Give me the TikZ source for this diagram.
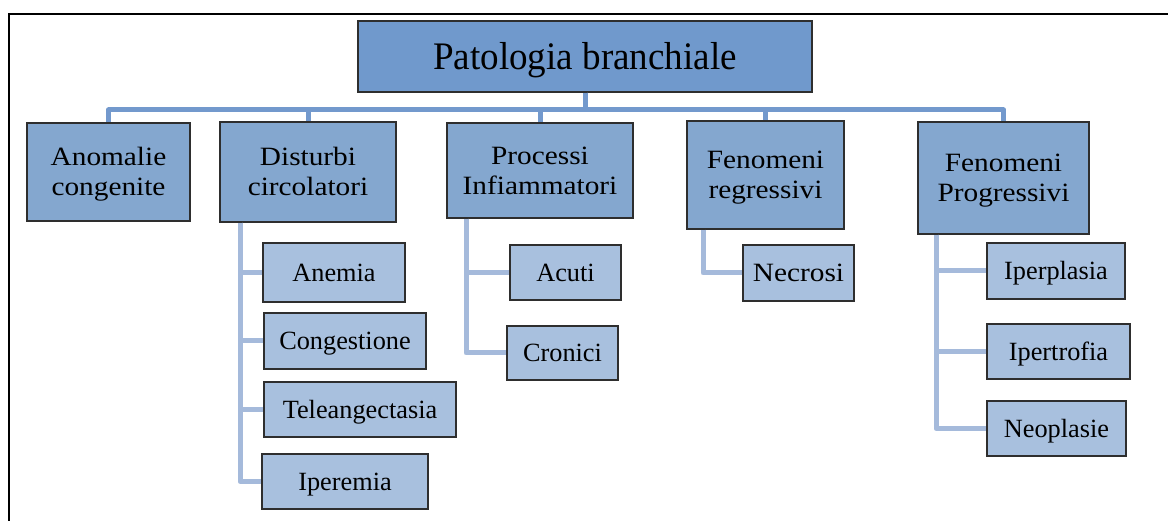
\documentclass[tikz,border=0pt]{standalone}
\usepackage{fontspec}
\setmainfont{Liberation Serif}
\newfontfamily\rootf{Liberation Serif}[FakeStretch=0.95]
\newfontfamily\lonef{Liberation Serif}[FakeStretch=1.11]
\newcommand\wstrut{\rule[-0.216em]{0pt}{1.107em}}
\definecolor{rootfill}{HTML}{7099CC}
\definecolor{onefill}{HTML}{84A7CF}
\definecolor{twofill}{HTML}{A8C0DE}
\definecolor{mainline}{HTML}{7399CD}
\definecolor{subline}{HTML}{A5BADB}
\definecolor{edge}{HTML}{2E2E2E}
\tikzset{
  box/.style={draw=edge, line width=1.2pt, rectangle, inner sep=0pt, align=center, text=black},
  rootbox/.style={box, fill=rootfill, font=\rootf\fontsize{39}{45}\selectfont},
  onebox/.style={box, fill=onefill, font=\lonef\fontsize{26.4}{30}\selectfont},
  twobox/.style={box, fill=twofill, font=\fontsize{26.3}{30}\selectfont},
  twoboxw/.style={box, fill=twofill, font=\lonef\fontsize{26.4}{30}\selectfont},
  mainconn/.style={draw=mainline, line width=5pt, line join=round},
  subconn/.style={draw=subline, line width=5pt, line join=round},
  frameline/.style={draw=black, line width=1.5pt}
}
\begin{document}
\begin{tikzpicture}[x=1pt,y=-1pt]
\useasboundingbox (0,0) rectangle (1168,521);
\draw[frameline] (9,521) -- (9,14) -- (1168,14);

\coordinate (busy) at (0,110);
\coordinate (distx) at (240,0);
\coordinate (procx) at (466,0);
\coordinate (fregx) at (703,0);
\coordinate (fprgx) at (936,0);

% nodes
\node[rootbox, minimum width=454pt, minimum height=71pt] (root) at (585,56.5) {\wstrut Patologia branchiale};

\node[onebox, minimum width=163pt, minimum height=98pt] (anom) at (108.5,172) {\wstrut Anomalie\\\wstrut congenite};
\node[onebox, minimum width=176pt, minimum height=100pt] (dist) at (308,172) {\wstrut Disturbi\\\wstrut circolatori};
\node[onebox, minimum width=186pt, minimum height=95pt] (proc) at (540,170.5) {\wstrut Processi\\\wstrut Infiammatori};
\node[onebox, minimum width=157pt, minimum height=108pt] (freg) at (765.5,175) {\wstrut Fenomeni\\\wstrut regressivi};
\node[onebox, minimum width=171pt, minimum height=112pt] (fprg) at (1003.5,178) {\wstrut Fenomeni\\\wstrut Progressivi};

\node[twobox, minimum width=142pt, minimum height=59pt] (anemia) at (334,272.5) {\wstrut Anemia};
\node[twobox, minimum width=162pt, minimum height=56pt] (cong) at (345,341) {\wstrut Congestione};
\node[twobox, minimum width=192pt, minimum height=55pt] (tele) at (360,409.5) {\wstrut Teleangectasia};
\node[twobox, minimum width=166pt, minimum height=55pt] (iper) at (345,481.5) {\wstrut Iperemia};

\node[twobox, minimum width=111pt, minimum height=55pt] (acuti) at (565.5,272.5) {\wstrut Acuti};
\node[twobox, minimum width=111pt, minimum height=54pt] (cron) at (562.5,353) {\wstrut Cronici};

\node[twoboxw, minimum width=111pt, minimum height=56pt] (necr) at (798.5,273) {\wstrut Necrosi};

\node[twobox, minimum width=138pt, minimum height=56pt] (iperp) at (1056,271) {\wstrut Iperplasia};
\node[twobox, minimum width=143pt, minimum height=55pt] (ipert) at (1058.5,351.5) {\wstrut Ipertrofia};
\node[twobox, minimum width=139pt, minimum height=55pt] (neop) at (1056.5,428.5) {\wstrut Neoplasie};

% connectors
\draw[mainconn] (root.south) -- (root.south |- busy) -| (anom.north);
\draw[mainconn] (root.south) -- (root.south |- busy) -| (dist.north);
\draw[mainconn] (root.south) -- (root.south |- busy) -| (proc.north);
\draw[mainconn] (root.south) -- (root.south |- busy) -| (freg.north);
\draw[mainconn] (root.south) -- (root.south |- busy) -| (fprg.north);

\draw[subconn] (distx |- dist.south) |- (anemia.west);
\draw[subconn] (distx |- dist.south) |- (cong.west);
\draw[subconn] (distx |- dist.south) |- (tele.west);
\draw[subconn] (distx |- dist.south) |- (iper.west);

\draw[subconn] (procx |- proc.south) |- (acuti.west);
\draw[subconn] (procx |- proc.south) |- (cron.west);

\draw[subconn] (fregx |- freg.south) |- (necr.west);

\draw[subconn] (fprgx |- fprg.south) |- (iperp.west);
\draw[subconn] (fprgx |- fprg.south) |- (ipert.west);
\draw[subconn] (fprgx |- fprg.south) |- (neop.west);
\end{tikzpicture}
\end{document}
